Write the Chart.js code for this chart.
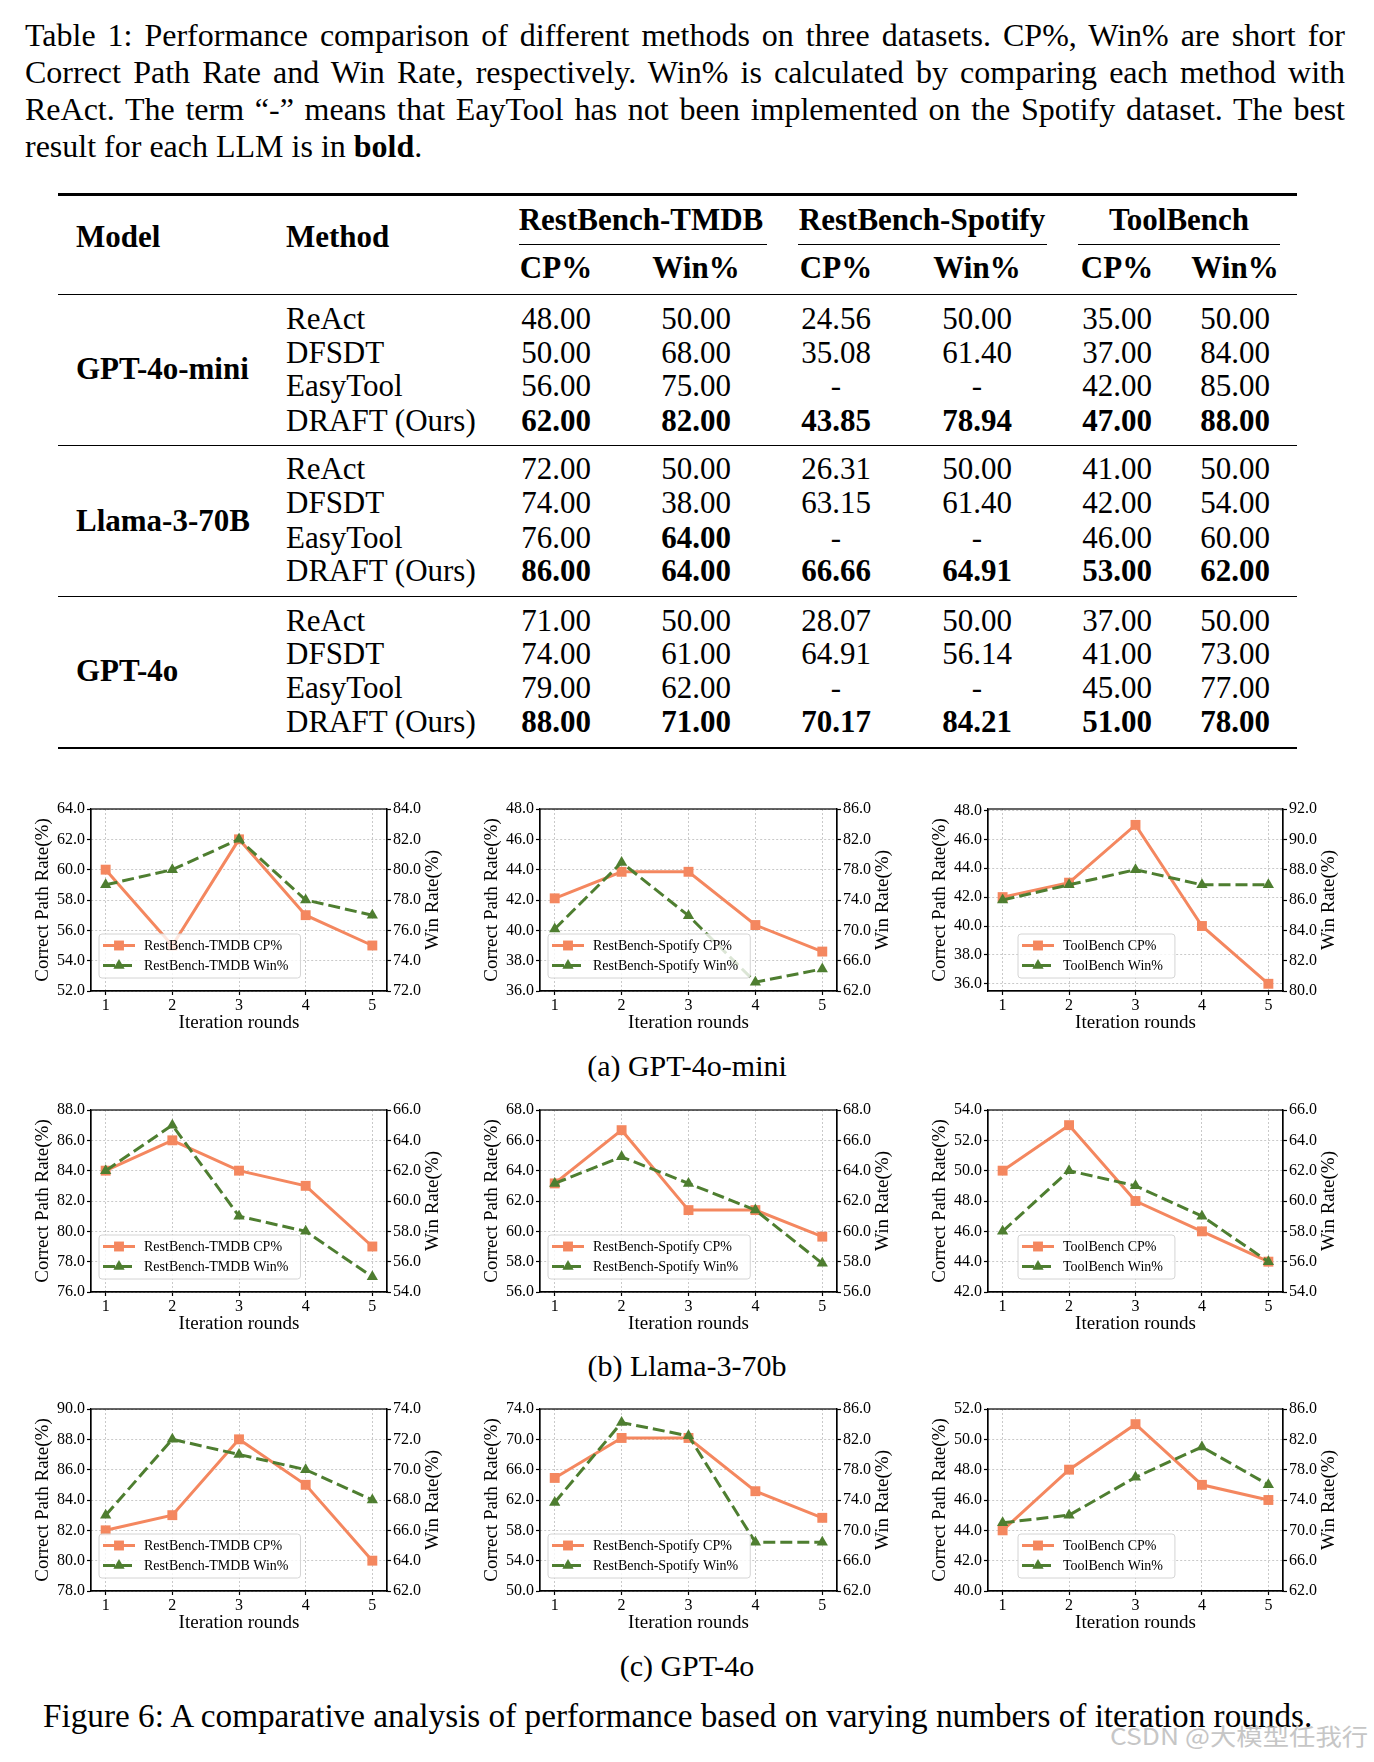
<!DOCTYPE html>
<html>
<head>
<meta charset="utf-8">
<script src="https://cdn.jsdelivr.net/npm/chart.js@4.4.1/dist/chart.umd.min.js"></script>
<style>
  html, body { margin: 0; padding: 0; background: #fff; }
  body { width: 1374px; height: 1762px; position: relative; overflow: hidden;
         font-family: "Liberation Serif", "Times New Roman", serif; color: #000; }
  .t { position: absolute; white-space: nowrap; line-height: 1; }
  .c { transform: translate(-50%, -50%); }
  .l { transform: translateY(-50%); }
  .b { font-weight: bold; }
  .rule { position: absolute; background: #000; }
  .cap { position: absolute; left: 25px; top: 17px; width: 1320px; font-size: 32px; line-height: 37px; }
  .cap div { text-align: justify; text-align-last: justify; }
  .cap div.last { text-align-last: left; }
  canvas { position: absolute; }
</style>
</head>
<body>
<div class="cap">
  <div>Table 1: Performance comparison of different methods on three datasets. CP%, Win% are short for</div>
  <div>Correct Path Rate and Win Rate, respectively. Win% is calculated by comparing each method with</div>
  <div>ReAct. The term “-” means that EayTool has not been implemented on the Spotify dataset. The best</div>
  <div class="last">result for each LLM is in <b>bold</b>.</div>
</div>
<div id="table"></div>
<div class="t c" style="left:687px;top:1066px;font-size:30px">(a) GPT-4o-mini</div>
<div class="t c" style="left:687px;top:1366px;font-size:30px">(b) Llama-3-70b</div>
<div class="t c" style="left:687px;top:1666px;font-size:30px">(c) GPT-4o</div>
<div id="figcap" class="t l" style="left:43px;top:1716px;font-size:33px">Figure 6: A comparative analysis of performance based on varying numbers of iteration rounds.</div>
<div id="mark" class="t" style="left:1110px;top:1722px;font-size:23px;line-height:26px;color:#c6c6c6;transform-origin:0 50%;font-family:'Noto Sans CJK SC','Noto Sans',sans-serif">CSDN @大模型任我行</div>

<script>
/* Table 1 text + Figure 6: nine dual-axis line charts (CP% left, Win% right). */

// ---- table data ----
const models = ["GPT-4o-mini", "Llama-3-70B", "GPT-4o"];
const methods = ["ReAct", "DFSDT", "EasyTool", "DRAFT (Ours)"];
const datasets = ["RestBench-TMDB", "RestBench-Spotify", "ToolBench"];
// "*" marks a bold cell
const tableMini = [
  ["48.00", "50.00", "24.56", "50.00", "35.00", "50.00"],
  ["50.00", "68.00", "35.08", "61.40", "37.00", "84.00"],
  ["56.00", "75.00", "-", "-", "42.00", "85.00"],
  ["*62.00", "*82.00", "*43.85", "*78.94", "*47.00", "*88.00"],
];
const tableLlama = [
  ["72.00", "50.00", "26.31", "50.00", "41.00", "50.00"],
  ["74.00", "38.00", "63.15", "61.40", "42.00", "54.00"],
  ["76.00", "*64.00", "-", "-", "46.00", "60.00"],
  ["*86.00", "*64.00", "*66.66", "*64.91", "*53.00", "*62.00"],
];
const tableGpt4o = [
  ["71.00", "50.00", "28.07", "50.00", "37.00", "50.00"],
  ["74.00", "61.00", "64.91", "56.14", "41.00", "73.00"],
  ["79.00", "62.00", "-", "-", "45.00", "77.00"],
  ["*88.00", "*71.00", "*70.17", "*84.21", "*51.00", "*78.00"],
];

// ---- chart data (x = iteration round) ----
const iterations = [1, 2, 3, 4, 5];
const miniTmdbCp = [60, 55, 62, 57, 55];
const miniTmdbWin = [79, 80, 82, 78, 77];
const miniSpotifyCp = [42.11, 43.86, 43.86, 40.35, 38.6];
const miniSpotifyWin = [70.18, 78.95, 71.93, 63.16, 64.91];
const miniToolCp = [42, 43, 47, 40, 36];
const miniToolWin = [86, 87, 88, 87, 87];
const llamaTmdbCp = [84, 86, 84, 83, 79];
const llamaTmdbWin = [62, 65, 59, 58, 55];
const llamaSpotifyCp = [63.16, 66.67, 61.4, 61.4, 59.65];
const llamaSpotifyWin = [63.16, 64.91, 63.16, 61.4, 57.89];
const llamaToolCp = [50, 53, 48, 46, 44];
const llamaToolWin = [58, 62, 61, 59, 56];
const gpt4oTmdbCp = [82, 83, 88, 85, 80];
const gpt4oTmdbWin = [67, 72, 71, 70, 68];
const gpt4oSpotifyCp = [64.91, 70.18, 70.18, 63.16, 59.65];
const gpt4oSpotifyWin = [73.68, 84.21, 82.46, 68.42, 68.42];
const gpt4oToolCp = [44, 48, 51, 47, 46];
const gpt4oToolWin = [71, 72, 77, 81, 76];

// axis [min, max, step, firstTick], one per chart, row by row
const cpAxes = [
  [52, 64, 2, 52], [36, 48, 2, 36], [35.5, 48.1, 2, 36],
  [76, 88, 2, 76], [56, 68, 2, 56], [42, 54, 2, 42],
  [78, 90, 2, 78], [50, 74, 4, 50], [40, 52, 2, 40],
];
const winAxes = [
  [72, 84, 2, 72], [62, 86, 4, 62], [80, 92, 2, 80],
  [54, 66, 2, 54], [56, 68, 2, 56], [54, 66, 2, 54],
  [62, 74, 2, 62], [62, 86, 4, 62], [62, 86, 4, 62],
];
const cpSeries = [miniTmdbCp, miniSpotifyCp, miniToolCp, llamaTmdbCp, llamaSpotifyCp, llamaToolCp, gpt4oTmdbCp, gpt4oSpotifyCp, gpt4oToolCp];
const winSeries = [miniTmdbWin, miniSpotifyWin, miniToolWin, llamaTmdbWin, llamaSpotifyWin, llamaToolWin, gpt4oTmdbWin, gpt4oSpotifyWin, gpt4oToolWin];

const SERIF = '"Liberation Serif", "Times New Roman", serif';
const ORANGE = "#f4875f";
const GREEN = "#4e7e30";
const GRID = "#c9c9c9";

// stretch captions to the widths they have in the figure
const fitWidth = (el, w) => { el.style.fontSize = parseFloat(getComputedStyle(el).fontSize) * w / el.offsetWidth + "px"; };
fitWidth(document.getElementById("figcap"), 1270);
const mark = document.getElementById("mark");
mark.style.transform = `scaleX(${258 / mark.offsetWidth})`;

// ---- table ----
const $t = document.getElementById("table");
const add = (html) => $t.insertAdjacentHTML("beforeend", html);
const txt = (x, y, s, cls, size = 31) =>
  add(`<div class="t ${cls}" style="left:${x}px;top:${y}px;font-size:${size}px">${s}</div>`);
const rule = (x1, x2, y, h) => add(`<div class="rule" style="left:${x1}px;top:${y}px;width:${x2 - x1}px;height:${h}px"></div>`);

rule(58, 1297, 193, 2.5);
rule(58, 1297, 293.5, 1.4);
rule(58, 1297, 445, 1.2);
rule(58, 1297, 595.5, 1.2);
rule(58, 1297, 746.5, 2.5);
rule(519, 767, 244, 1.1);
rule(798, 1047, 244, 1.1);
rule(1078, 1280, 244, 1.1);

txt(76, 236, "Model", "l b");
txt(286, 236, "Method", "l b");
const groupX = [641, 922, 1179];
datasets.forEach((d, i) => txt(groupX[i], 219, d, "c b"));
const colX = [556, 696, 836, 977, 1117, 1235];
colX.forEach((x, i) => txt(x, 267, i % 2 ? "Win%" : "CP%", "c b"));

const rowY = [
  [318, 351.5, 385, 419.5],
  [468, 502, 536.5, 570],
  [619.5, 653, 687, 720.5],
];
const modelY = [368, 520, 670];
[tableMini, tableLlama, tableGpt4o].forEach((tbl, g) => {
  txt(76, modelY[g], models[g], "l b");
  tbl.forEach((row, r) => {
    txt(286, rowY[g][r], methods[r], "l");
    row.forEach((v, k) => {
      const bold = v.startsWith("*");
      txt(colX[k], rowY[g][r], bold ? v.slice(1) : v, bold ? "c b" : "c");
    });
  });
});

// ---- charts ----
const plotLeft = [91, 540, 988];
const plotRight = [387, 837, 1283];
const plotTop = [809, 1110, 1409];
const PLOT_H = 182;
const legendX = [8, 8, 30];

function ticksFrom(first, max, step) {
  const out = [];
  for (let v = first; v <= max + 1e-9; v += step) out.push({ value: v });
  return out;
}

const decor = {
  id: "decor",
  afterDatasetsDraw(chart, args, opts) {
    const { ctx, chartArea: a } = chart;
    ctx.save();
    // box
    ctx.strokeStyle = "#000";
    ctx.lineWidth = 1.2;
    ctx.strokeRect(a.left, a.top, a.right - a.left, a.bottom - a.top);

    // legend inside the plot
    ctx.font = `14px ${SERIF}`;
    const ds = chart.data.datasets;
    const tw = Math.max(...ds.map((d) => ctx.measureText(d.label).width));
    const lx = a.left + opts.legendX, ly = a.top + 125, lw = tw + 57, lh = 44;
    ctx.beginPath();
    ctx.roundRect(lx, ly, lw, lh, 3);
    ctx.fillStyle = "rgba(255,255,255,0.8)";
    ctx.fill();
    ctx.strokeStyle = "#d4d4d4";
    ctx.lineWidth = 1;
    ctx.stroke();
    ds.forEach((d, i) => {
      const y = ly + 11.5 + i * 20;
      ctx.save();
      ctx.strokeStyle = d.borderColor;
      ctx.lineWidth = 3;
      ctx.setLineDash(d.borderDash || []);
      ctx.beginPath();
      ctx.moveTo(lx + 4, y);
      ctx.lineTo(lx + 36, y);
      ctx.stroke();
      ctx.restore();
      ctx.fillStyle = d.backgroundColor;
      Chart.helpers.drawPoint(ctx, { pointStyle: d.pointStyle, radius: d.pointRadius, rotation: 0, borderWidth: 0 }, lx + 20, y);
      ctx.fillStyle = "#000";
      ctx.textAlign = "left";
      ctx.textBaseline = "middle";
      ctx.fillText(d.label, lx + 45, y + 1);
    });

    // axis titles
    ctx.font = `19px ${SERIF}`;
    ctx.fillStyle = "#000";
    ctx.textAlign = "center";
    ctx.textBaseline = "middle";
    const cy = (a.top + a.bottom) / 2;
    ctx.fillText("Iteration rounds", (a.left + a.right) / 2, a.bottom + 32);
    ctx.save();
    ctx.translate(a.left - 48, cy);
    ctx.rotate(-Math.PI / 2);
    ctx.fillText("Correct Path Rate(%)", 0, 0);
    ctx.restore();
    ctx.save();
    ctx.translate(a.right + 46, cy);
    ctx.rotate(-Math.PI / 2);
    ctx.fillText("Win Rate(%)", 0, 0);
    ctx.restore();
    ctx.restore();
  },
};

function axisStyle(extra) {
  return Object.assign({
    grid: { color: GRID, lineWidth: 1, tickLength: 4, tickColor: "#000", tickWidth: 1.2 },
    border: { display: true, color: "#000", width: 1.2, dash: [2, 2] },
    ticks: { color: "#000", font: { family: SERIF, size: 16 }, padding: 2 },
  }, extra);
}

for (let i = 0; i < 9; i++) {
  const row = Math.floor(i / 3), col = i % 3;
  const pl = plotLeft[col], pr = plotRight[col], pt = plotTop[row];
  const cv = document.createElement("canvas");
  cv.width = pr - pl + 130;
  cv.height = PLOT_H + 66;
  cv.style.left = pl - 68 + "px";
  cv.style.top = pt - 14 + "px";
  document.body.appendChild(cv);

  const name = datasets[col];
  const [cMin, cMax, cStep, cFirst] = cpAxes[i];
  const [wMin, wMax, wStep, wFirst] = winAxes[i];

  new Chart(cv, {
    type: "line",
    data: {
      datasets: [
        {
          label: `${name} CP%`,
          data: iterations.map((x, k) => ({ x, y: cpSeries[i][k] })),
          yAxisID: "y",
          borderColor: ORANGE,
          backgroundColor: ORANGE,
          borderWidth: 3,
          pointStyle: "rect",
          pointRadius: 7,
          pointBorderWidth: 0,
          order: 2,
        },
        {
          label: `${name} Win%`,
          data: iterations.map((x, k) => ({ x, y: winSeries[i][k] })),
          yAxisID: "y1",
          borderColor: GREEN,
          backgroundColor: GREEN,
          borderWidth: 3,
          borderDash: [12, 5],
          pointStyle: "triangle",
          pointRadius: 6.5,
          pointBorderWidth: 0,
          order: 1,
        },
      ],
    },
    options: {
      responsive: false,
      animation: false,
      devicePixelRatio: 1,
      layout: { padding: { top: 14, left: 0, right: 0, bottom: 0 } },
      plugins: { legend: { display: false }, tooltip: { enabled: false }, decor: { legendX: legendX[col] } },
      scales: {
        x: axisStyle({
          type: "linear",
          min: 0.78,
          max: 5.22,
          afterBuildTicks: (s) => { s.ticks = iterations.map((v) => ({ value: v })); },
          afterFit: (s) => { s.height = 52; },
          ticks: { color: "#000", font: { family: SERIF, size: 16 }, padding: 1, maxRotation: 0, callback: (v) => v },
        }),
        y: axisStyle({
          position: "left",
          min: cMin,
          max: cMax,
          afterBuildTicks: (s) => { s.ticks = ticksFrom(cFirst, cMax, cStep); },
          afterFit: (s) => { s.width = 68; },
          ticks: { color: "#000", font: { family: SERIF, size: 16 }, padding: 2, callback: (v) => Number(v).toFixed(1) },
        }),
        y1: axisStyle({
          position: "right",
          min: wMin,
          max: wMax,
          grid: { drawOnChartArea: false, tickLength: 4, tickColor: "#000", tickWidth: 1.2 },
          afterBuildTicks: (s) => { s.ticks = ticksFrom(wFirst, wMax, wStep); },
          afterFit: (s) => { s.width = 62; },
          ticks: { color: "#000", font: { family: SERIF, size: 16 }, padding: 2, callback: (v) => Number(v).toFixed(1) },
        }),
      },
    },
    plugins: [decor],
  });
}
</script>
</body>
</html>
